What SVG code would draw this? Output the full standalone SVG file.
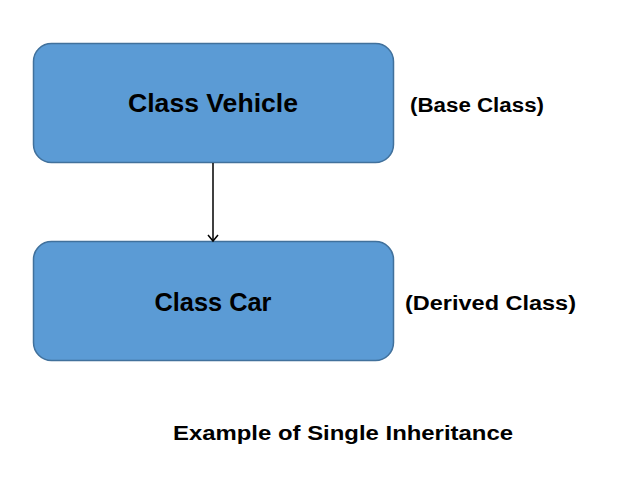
<svg xmlns="http://www.w3.org/2000/svg" width="636" height="492" viewBox="0 0 636 492">
<defs>
<style>
.box{fill:#5B9BD5;stroke:#41719C;stroke-width:1.5}
.t{font-family:"Liberation Sans",Arial,sans-serif;font-weight:bold;fill:#000}
</style>
<marker id="ah" markerWidth="12" markerHeight="12" refX="10" refY="6" orient="auto" markerUnits="userSpaceOnUse" viewBox="0 0 12 12">
<path d="M4,1 L10,6 L4,11" fill="none" stroke="#000" stroke-width="1.5"/>
</marker>
</defs>
<rect width="636" height="492" fill="#fff"/>
<g id="vehicle">
<rect class="box" x="33.5" y="43.5" width="360" height="119" rx="18"/>
<text class="t" x="213" y="112" font-size="25" text-anchor="middle" textLength="170" lengthAdjust="spacingAndGlyphs">Class Vehicle</text>
</g>
<g id="car">
<rect class="box" x="33.5" y="241.5" width="360" height="119" rx="18"/>
<text class="t" x="213" y="311" font-size="25" text-anchor="middle" textLength="117" lengthAdjust="spacingAndGlyphs">Class Car</text>
</g>
<g id="labels">
<text class="t" x="410" y="112" font-size="20" textLength="134" lengthAdjust="spacingAndGlyphs">(Base Class)</text>
<text class="t" x="405" y="310" font-size="20" textLength="171" lengthAdjust="spacingAndGlyphs">(Derived Class)</text>
<text class="t" x="173" y="440" font-size="21" textLength="340" lengthAdjust="spacingAndGlyphs">Example of Single Inheritance</text>
</g>
<g id="connectors">
<line x1="213" y1="163" x2="213" y2="241" stroke="#000" stroke-width="1.5" marker-end="url(#ah)"/>
</g>
</svg>
